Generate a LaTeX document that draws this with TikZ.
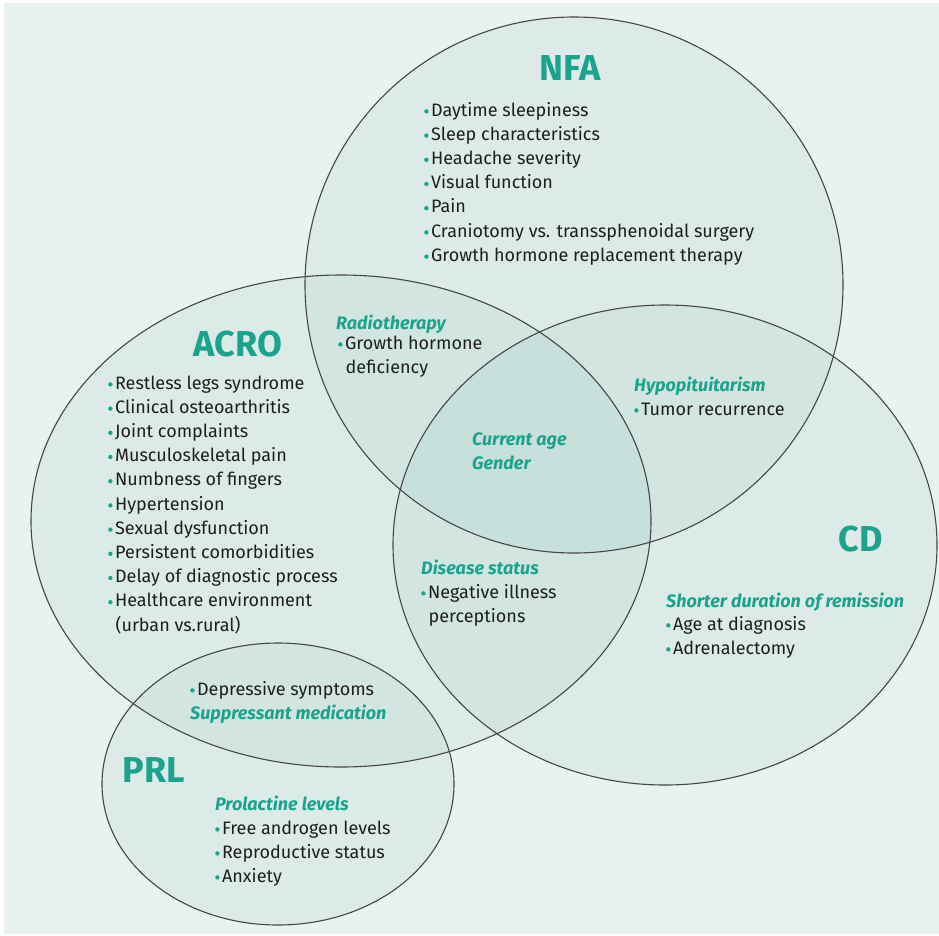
\documentclass[tikz,border=0pt]{standalone}
\usepackage{fontspec}
\setmainfont{Fira Sans}
\newfontfamily\tagfont{Fira Sans}[UprightFont=*, ItalicFont=* Italic, AutoFakeBold=0.3]
\definecolor{pagebg}{RGB}{232,242,240}
\definecolor{bubble}{RGB}{110,175,160}
\definecolor{accent}{RGB}{27,163,142}
\definecolor{ink}{RGB}{30,30,30}
\definecolor{rim}{RGB}{70,70,70}
\tikzset{
  heading/.style={font=\fontsize{36}{36}\selectfont\bfseries, text=accent, inner sep=0pt},
  item/.style={anchor=mid west, yshift=-4.5pt, font=\fontsize{18}{24}\selectfont, text=ink, inner sep=0pt},
  tag/.style={anchor=mid west, yshift=-4.5pt, font=\fontsize{18}{24}\selectfont\tagfont\bfseries\itshape, text=accent, inner sep=0pt},
  bubblefill/.style={fill=bubble, fill opacity=0.09},
  bubbleline/.style={draw=rim, line width=1.1pt},
}
\newcommand\dotmark{\tikz[baseline=-0.5ex]\fill[accent] (0,0) circle (2.2pt);\hspace{2.5pt}}
\begin{document}
\begin{tikzpicture}[x=1pt, y=1pt]
  \path[use as bounding box] (0,0) rectangle (939,-935);
  \fill[pagebg] (4,-3) rectangle (939,-934);

  % the four sets: tinted fills first, outlines on top
  \foreach \c/\rx/\ry in {{(574,-285)}/269/268, {(341,-521)}/310/246, {(665,-545)}/272/240, {(278,-784)}/176/141}
    \path[bubblefill] \c ellipse [x radius=\rx, y radius=\ry];
  \foreach \c/\rx/\ry in {{(574,-285)}/269/268, {(341,-521)}/310/246, {(665,-545)}/272/240, {(278,-784)}/176/141}
    \path[bubbleline] \c ellipse [x radius=\rx, y radius=\ry];

  % set headings
  \node[heading] (nfa)  at (570,-68)  {NFA};
  \node[heading] (acro) at (238,-344) {ACRO};
  \node[heading] (cd)   at (861,-539) {CD};
  \node[heading] (prl)  at (154,-770) {PRL};

  % NFA only
  \foreach \t [count=\i] in {Daytime sleepiness, Sleep characteristics, Headache severity,
      Visual function, Pain, Craniotomy vs. transsphenoidal surgery, Growth hormone replacement therapy}
    \node[item] (nfa\i) at (424, {-109-24.2*(\i-1)}) {\dotmark\t};

  % ACRO only
  \foreach \t [count=\i] in {Restless legs syndrome, Clinical osteoarthritis, Joint complaints,
      Musculoskeletal pain, Numbness of fingers, Hypertension, Sexual dysfunction,
      Persistent comorbidities, Delay of diagnostic process, Healthcare environment}
    \node[item] (acro\i) at (108, {-382-24.2*(\i-1)}) {\dotmark\t};
  \node[item] (acro11) at (115.5,-624) {(urban vs.rural)};

  % NFA and ACRO
  \node[tag]  (radio) at (336,-322) {Radiotherapy};
  \node[item] (gh1)   at (338,-342) {\dotmark Growth hormone};
  \node[item] (gh2)   at (345.5,-366) {deficiency};

  % NFA and CD
  \node[tag]  (hypo)  at (634,-384) {Hypopituitarism};
  \node[item] (tumor) at (634,-408) {\dotmark Tumor recurrence};

  % all three large sets
  \node[tag] (age)    at (472,-438) {Current age};
  \node[tag] (gender) at (472,-462) {Gender};

  % ACRO and CD
  \node[tag]  (status) at (421,-567) {Disease status};
  \node[item] (neg1)   at (421,-591) {\dotmark Negative illness};
  \node[item] (neg2)   at (428.5,-615) {perceptions};

  % CD only
  \node[tag]  (remission) at (666,-600) {Shorter duration of remission};
  \node[item] (cd1) at (666,-623) {\dotmark Age at diagnosis};
  \node[item] (cd2) at (666,-647) {\dotmark Adrenalectomy};

  % ACRO and PRL
  \node[item] (depr)  at (190,-688) {\dotmark Depressive symptoms};
  \node[tag]  (suppr) at (190,-712) {Suppressant medication};

  % PRL only
  \node[tag] (prol) at (215,-803) {Prolactine levels};
  \foreach \t [count=\i] in {Free androgen levels, Reproductive status, Anxiety}
    \node[item] (prl\i) at (215, {-827-24*(\i-1)}) {\dotmark\t};
\end{tikzpicture}
\end{document}
